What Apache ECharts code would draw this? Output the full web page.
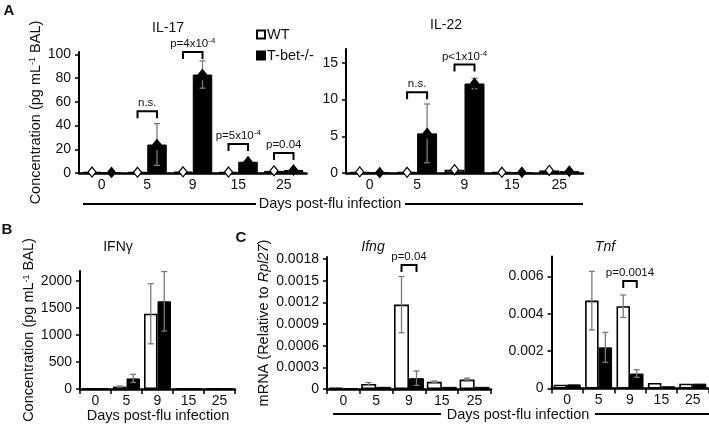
<!DOCTYPE html>
<html>
<head>
  <meta charset="utf-8" />
  <title>Cytokines post-flu infection</title>
  <style>
    body { margin: 0; background: #fff; }
    #main { width: 709px; height: 426px; }
  </style>
</head>
<body>
  <div id="main"></div>
  <script src="https://cdn.jsdelivr.net/npm/echarts@6/dist/echarts.min.js"></script>
  <script type="text/javascript">
    var FONT = "'Liberation Sans', Arial, sans-serif";
    var days = ['0', '5', '9', '15', '25'];

    // A - IL-17
    var il17Wt = [0.8, 0.6, 1.0, 0.8, 1.8];
    var il17WtErr = [0, 0, 0, 0, 0.3];
    var il17Tb = [0.5, 24, 83, 9.5, 2.5];
    var il17TbErr = [0, 17.6, 11.5, 1.2, 0.8];
    var il17Ticks = [0, 20, 40, 60, 80, 100];
    var il17BrDay = [1, 2, 3, 4];
    var il17BrY = [52, 102, 24.4, 16.8];
    var il17BrTxt = [['n.s.', ''], ['p=4x10', '-4'], ['p=5x10', '-4'], ['p=0.04', '']];

    // A - IL-22
    var il22Wt = [0.15, 0.1, 0.45, 0.1, 0.35];
    var il22WtErr = [0, 0, 0, 0, 0];
    var il22Tb = [0.05, 5.4, 12.2, 0.1, 0.25];
    var il22TbErr = [0, 4.0, 0.7, 0, 0.1];
    var il22Ticks = [0, 5, 10, 15];
    var il22BrDay = [1, 2];
    var il22BrY = [11, 14.8];
    var il22BrTxt = [['n.s.', ''], ['p<1x10', '-4']];

    // B - IFNg
    var ifnWt = [8, 45, 1390, 5, 5];
    var ifnWtErr = [0, 10, 555, 0, 0];
    var ifnTb = [5, 195, 1620, 8, 5];
    var ifnTbErr = [0, 75, 550, 0, 0];
    var ifnTicks = [0, 500, 1000, 1500, 2000];

    // C - Ifng
    var ifngWt = [0.00002, 0.00007, 0.00117, 0.0001, 0.00013];
    var ifngWtErr = [0, 0.00002, 0.00039, 0.00001, 0.00002];
    var ifngTb = [0.00001, 0.00003, 0.00015, 0.00003, 0.00003];
    var ifngTbErr = [0, 0, 0.0001, 0, 0];
    var ifngTicks = [0, 0.0003, 0.0006, 0.0009, 0.0012, 0.0015, 0.0018];
    var ifngBrDay = [2];
    var ifngBrY = [0.00172];
    var ifngBrTxt = [['p=0.04', '']];

    // C - Tnf
    var tnfWt = [0.0002, 0.0047, 0.0044, 0.0003, 0.00026];
    var tnfWtErr = [0, 0.00157, 0.0006, 0, 0];
    var tnfTb = [0.00022, 0.0022, 0.0008, 0.00012, 0.00026];
    var tnfTbErr = [0, 0.0008, 0.0002, 0, 0];
    var tnfTicks = [0, 0.002, 0.004, 0.006];
    var tnfBrDay = [2];
    var tnfBrY = [0.00575];
    var tnfBrTxt = [['p=0.0014', '']];

    var myChart = echarts.init(document.getElementById('main'));

    function xAxisCfg(idx, ticks) {
      return {
        type: 'category', gridIndex: idx, data: days,
        axisLine: { lineStyle: { color: '#000', width: 2.5 } },
        axisTick: { show: ticks, interval: 0, length: 5, lineStyle: { color: '#000', width: 1.5 } },
        axisLabel: { color: '#111', fontSize: 14, fontFamily: FONT, margin: 5, interval: 0 }
      };
    }

    function yAxisCfg(idx, max, ticks, digits, name, nameGap) {
      var ax = {
        type: 'value', gridIndex: idx, min: 0, max: max,
        axisLine: { show: true, lineStyle: { color: '#000', width: 2 } },
        axisTick: { show: true, length: 4, customValues: ticks, lineStyle: { color: '#000', width: 1.5 } },
        splitLine: { show: false },
        axisLabel: {
          color: '#111', fontSize: 14, fontFamily: FONT, margin: 8,
          customValues: ticks,
          formatter: function (v) {
            for (var k = 0; k < ticks.length; k++) {
              if (Math.abs(ticks[k] - v) < 1e-9) return v === 0 ? '0' : v.toFixed(digits);
            }
            return '';
          }
        }
      };
      if (name) {
        ax.name = name;
        ax.nameLocation = 'middle';
        ax.nameRotate = 90;
        ax.nameGap = nameGap;
        ax.nameTextStyle = {
          fontFamily: FONT, fontSize: 14.5, color: '#111',
          rich: {
            a: { fontFamily: FONT, fontSize: 14.5, color: '#111' },
            i: { fontFamily: FONT, fontSize: 14.5, color: '#111', fontStyle: 'italic' },
            s: { fontFamily: FONT, fontSize: 9, color: '#111', verticalAlign: 'top' }
          }
        };
      }
      return ax;
    }

    function barPair(idx, wt, tb, w) {
      return [
        {
          name: 'WT', type: 'bar', xAxisIndex: idx, yAxisIndex: idx, data: wt,
          barWidth: w, barGap: '0%',
          itemStyle: { color: '#fff', borderColor: '#000', borderWidth: 1.6 }
        },
        {
          name: 'T-bet-/-', type: 'bar', xAxisIndex: idx, yAxisIndex: idx, data: tb,
          barWidth: w, barGap: '0%',
          itemStyle: { color: '#000', borderColor: '#000', borderWidth: 1 }
        }
      ];
    }

    // error bars (and diamonds for panel A) on top of each bar
    function errSeries(idx, means, errs, side, w, diamond) {
      return {
        type: 'custom', xAxisIndex: idx, yAxisIndex: idx, z: 5, silent: true,
        data: means.map(function (m, i) { return [i, m, errs[i]]; }),
        renderItem: function (params, api) {
          var i = api.value(0), m = api.value(1), e = api.value(2);
          var c = api.coord([i, m]);
          var x = c[0] + side * w / 2;
          var kids = [];
          if (e > 0) {
            var yt = api.coord([i, m + e])[1];
            var yb = api.coord([i, Math.max(m - e, 0)])[1];
            var st = { stroke: '#7a7a7a', lineWidth: 1.3 };
            kids.push({ type: 'line', shape: { x1: x, y1: yt, x2: x, y2: yb }, style: st });
            kids.push({ type: 'line', shape: { x1: x - 3, y1: yt, x2: x + 3, y2: yt }, style: st });
            kids.push({ type: 'line', shape: { x1: x - 3, y1: yb, x2: x + 3, y2: yb }, style: st });
          }
          if (diamond) {
            var y = c[1];
            kids.push({
              type: 'polygon',
              shape: { points: [[x, y - 5], [x + 4, y], [x, y + 5], [x - 4, y]] },
              style: { fill: side < 0 ? '#fff' : '#000', stroke: '#000', lineWidth: 1.2 }
            });
          }
          return { type: 'group', children: kids };
        }
      };
    }

    function bracketSeries(idx, bDays, bY, bTxt, w) {
      return {
        type: 'custom', xAxisIndex: idx, yAxisIndex: idx, z: 6, silent: true, clip: false,
        data: bDays.map(function (d, k) { return [d, bY[k]]; }),
        renderItem: function (params, api) {
          var c = api.coord([api.value(0), api.value(1)]);
          var x1 = c[0] - w / 2, x2 = c[0] + w / 2, y = c[1];
          var t = bTxt[params.dataIndex];
          var txt = '{m|' + t[0] + '}' + (t[1] ? '{s|' + t[1] + '}' : '');
          return {
            type: 'group', children: [
              {
                type: 'polyline',
                shape: { points: [[x1, y + 7], [x1, y], [x2, y], [x2, y + 7]] },
                style: { stroke: '#000', lineWidth: 2, fill: null }
              },
              {
                type: 'text', x: c[0], y: y - 1,
                style: {
                  text: txt, align: 'center', verticalAlign: 'bottom', fill: '#111',
                  rich: {
                    m: { fontFamily: FONT, fontSize: 11.5, fill: '#111', lineHeight: 14 },
                    s: { fontFamily: FONT, fontSize: 8, fill: '#111', verticalAlign: 'top', lineHeight: 14 }
                  }
                }
              }
            ]
          };
        }
      };
    }

    function label(x, y, text, size, weight, italic) {
      return {
        type: 'text', x: x, y: y, silent: true,
        style: {
          text: text, fill: '#111', fontFamily: FONT, fontSize: size,
          fontWeight: weight || 'normal', fontStyle: italic ? 'italic' : 'normal',
          align: 'center', verticalAlign: 'middle',
          textAlign: 'center', textVerticalAlign: 'middle'
        }
      };
    }

    function rule(x1, x2, y) {
      return {
        type: 'line', silent: true,
        shape: { x1: x1, y1: y, x2: x2, y2: y },
        style: { stroke: '#000', lineWidth: 2 }
      };
    }

    var series = [].concat(
      barPair(0, il17Wt, il17Tb, 19.5),
      errSeries(0, il17Wt, il17WtErr, -1, 19.5, true),
      errSeries(0, il17Tb, il17TbErr, 1, 19.5, true),
      bracketSeries(0, il17BrDay, il17BrY, il17BrTxt, 19.5),

      barPair(1, il22Wt, il22Tb, 20),
      errSeries(1, il22Wt, il22WtErr, -1, 20, true),
      errSeries(1, il22Tb, il22TbErr, 1, 20, true),
      bracketSeries(1, il22BrDay, il22BrY, il22BrTxt, 20),

      barPair(2, ifnWt, ifnTb, 13.5),
      errSeries(2, ifnWt, ifnWtErr, -1, 13.5, false),
      errSeries(2, ifnTb, ifnTbErr, 1, 13.5, false),

      barPair(3, ifngWt, ifngTb, 15),
      errSeries(3, ifngWt, ifngWtErr, -1, 15, false),
      errSeries(3, ifngTb, ifngTbErr, 1, 15, false),
      bracketSeries(3, ifngBrDay, ifngBrY, ifngBrTxt, 15),

      barPair(4, tnfWt, tnfTb, 13.5),
      errSeries(4, tnfWt, tnfWtErr, -1, 13.5, false),
      errSeries(4, tnfTb, tnfTbErr, 1, 13.5, false),
      bracketSeries(4, tnfBrDay, tnfBrY, tnfBrTxt, 13.5)
    );

    myChart.setOption({
      animation: false,
      textStyle: { fontFamily: FONT },
      grid: [
        { left: 79, top: 52, width: 227.5, height: 121 },
        { left: 346, top: 49, width: 237, height: 124 },
        { left: 80, top: 271, width: 155, height: 118 },
        { left: 327, top: 257, width: 164, height: 132 },
        { left: 551.5, top: 256.5, width: 157, height: 132 }
      ],
      legend: {
        data: ['WT', 'T-bet-/-'],
        orient: 'vertical', left: 251, top: 22,
        itemWidth: 8, itemHeight: 8, itemGap: 6, icon: 'rect',
        selectedMode: false,
        textStyle: { fontFamily: FONT, fontSize: 14.5, color: '#111', padding: [0, 0, 0, -3] }
      },
      xAxis: [
        xAxisCfg(0, false), xAxisCfg(1, false), xAxisCfg(2, true), xAxisCfg(3, true), xAxisCfg(4, true)
      ],
      yAxis: [
        yAxisCfg(0, 102, il17Ticks, 0, '{a|Concentration (pg mL}{s|-1}{a| BAL)}', 36),
        yAxisCfg(1, 16.9, il22Ticks, 0, null, 0),
        yAxisCfg(2, 2180, ifnTicks, 0, '{a|Concentration (pg mL}{s|-1}{a| BAL)}', 37),
        yAxisCfg(3, 0.00183, ifngTicks, 4, '{a|mRNA (Relative to }{i|Rpl27}{a|)}', 56),
        yAxisCfg(4, 0.00706, tnfTicks, 3, null, 0)
      ],
      graphic: [
        label(9, 11, 'A', 15, 'bold'),
        label(7, 230, 'B', 15, 'bold'),
        label(241, 238, 'C', 15, 'bold'),
        label(168, 28, 'IL-17', 14),
        label(446, 25, 'IL-22', 14),
        label(118, 247, 'IFNγ', 14),
        label(373, 247, 'Ifng', 14, 'normal', true),
        label(605, 247, 'Tnf', 14, 'normal', true),
        rule(83, 256, 204),
        rule(405, 583, 204),
        label(330, 204, 'Days post-flu infection', 14.5),
        label(158, 416, 'Days post-flu infection', 14.5),
        rule(333, 441, 414),
        rule(595, 709, 414),
        label(518, 415, 'Days post-flu infection', 14.5)
      ],
      series: series
    });
  </script>
</body>
</html>
